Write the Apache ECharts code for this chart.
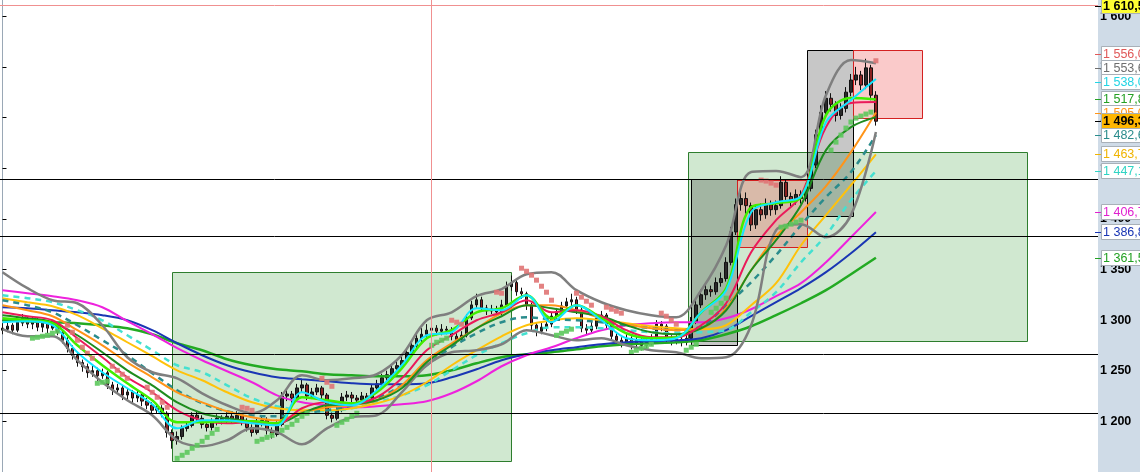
<!DOCTYPE html>
<html><head><meta charset="utf-8">
<script src="https://cdn.jsdelivr.net/npm/echarts@6/dist/echarts.min.js"></script>
<style>html,body{margin:0;padding:0;background:#fff}#c{width:1140px;height:472px}</style>
</head><body><div id="c"></div>
<script>
// ---- data ----
const priceOHLC = [
[1290,1292,1286,1297],[1291,1294,1288,1298],[1295,1290,1286,1297],[1290,1298,1288,1301],[1297,1302,1294,1306],
[1302,1296,1292,1304],[1296,1300,1291,1303],[1300,1293,1289,1302],[1293,1297,1288,1300],[1297,1292,1287,1299],
[1292,1296,1290,1299],[1296,1288,1285,1298],[1288,1280,1277,1290],[1280,1272,1268,1283],[1272,1265,1261,1275],
[1265,1258,1254,1268],[1258,1254,1249,1261],[1254,1248,1243,1257],[1248,1250,1244,1255],[1250,1245,1240,1253],
[1245,1248,1242,1252],[1248,1236,1232,1250],[1236,1231,1226,1239],[1231,1233,1227,1237],[1233,1226,1221,1235],
[1226,1229,1222,1233],[1229,1223,1218,1231],[1223,1226,1219,1230],[1226,1220,1215,1228],[1220,1216,1212,1223],
[1216,1211,1207,1219],[1211,1213,1208,1217],[1213,1209,1204,1216],[1208,1189,1184,1210],[1189,1181,1173,1192],
[1181,1185,1177,1190],[1185,1193,1182,1196],[1193,1196,1190,1200],[1196,1206,1194,1209],[1206,1203,1199,1210],
[1203,1197,1193,1206],[1197,1194,1190,1200],[1194,1199,1191,1203],[1199,1203,1196,1207],[1203,1201,1197,1206],
[1201,1205,1198,1209],[1205,1202,1198,1208],[1202,1206,1199,1210],[1206,1200,1196,1208],[1200,1194,1190,1203],
[1194,1189,1185,1197],[1189,1199,1187,1203],[1199,1201,1195,1205],[1201,1191,1187,1204],[1191,1187,1183,1194],
[1187,1196,1185,1200],[1197,1225,1195,1229],[1225,1227,1220,1232],[1227,1223,1218,1230],[1223,1233,1221,1237],
[1233,1236,1229,1241],[1236,1225,1221,1238],[1225,1229,1222,1233],[1229,1233,1226,1237],[1233,1226,1222,1235],
[1226,1206,1202,1228],[1206,1203,1199,1209],[1203,1211,1201,1215],[1211,1224,1209,1228],[1224,1226,1220,1230],
[1226,1223,1218,1229],[1223,1221,1217,1226],[1221,1225,1218,1229],[1225,1223,1219,1228],[1223,1233,1221,1236],
[1233,1237,1230,1241],[1237,1243,1234,1247],[1243,1246,1240,1250],[1246,1252,1243,1256],[1252,1255,1249,1259],
[1255,1260,1252,1264],[1260,1268,1257,1272],[1268,1275,1265,1279],[1275,1282,1272,1286],[1282,1286,1278,1292],
[1286,1290,1283,1296],[1290,1292,1286,1297],[1292,1289,1285,1295],[1289,1291,1285,1296],[1291,1290,1286,1294],
[1290,1284,1280,1293],[1284,1281,1277,1287],[1281,1285,1278,1289],[1285,1302,1283,1306],[1302,1315,1300,1319],
[1315,1320,1311,1326],[1320,1312,1308,1323],[1312,1309,1305,1315],[1309,1311,1306,1315],[1311,1308,1304,1314],
[1308,1315,1305,1320],[1315,1333,1313,1338],[1333,1337,1329,1344],[1337,1328,1324,1340],[1328,1326,1321,1332],
[1326,1315,1310,1328],[1315,1295,1290,1317],[1295,1289,1284,1298],[1289,1293,1286,1297],[1293,1296,1289,1300],
[1296,1304,1293,1308],[1304,1308,1300,1312],[1308,1314,1305,1318],[1314,1318,1310,1322],[1318,1320,1314,1326],
[1320,1310,1306,1323],[1310,1292,1288,1312],[1292,1290,1286,1296],[1290,1294,1287,1298],[1294,1302,1291,1306],
[1302,1305,1298,1309],[1305,1295,1291,1307],[1295,1284,1280,1297],[1284,1280,1276,1287],[1280,1278,1273,1283],
[1278,1282,1275,1286],[1282,1276,1271,1284],[1276,1280,1273,1284],[1280,1275,1270,1282],[1275,1278,1272,1282],
[1278,1282,1275,1286],[1282,1296,1280,1300],[1296,1294,1289,1299],[1294,1282,1278,1296],[1282,1279,1275,1285],
[1279,1281,1276,1285],[1281,1278,1274,1284],[1278,1282,1275,1286],[1282,1298,1280,1303],[1298,1315,1296,1320],
[1315,1325,1312,1330],[1325,1330,1320,1335],[1330,1328,1323,1334],[1328,1337,1325,1342],[1337,1341,1333,1347],
[1341,1357,1338,1362],[1357,1387,1354,1392],[1387,1414,1384,1420],[1414,1420,1408,1428],[1420,1413,1405,1426],
[1413,1394,1388,1416],[1394,1409,1390,1414],[1409,1404,1398,1415],[1404,1414,1400,1420],[1414,1409,1403,1418],
[1409,1413,1404,1418],[1413,1436,1410,1442],[1436,1422,1417,1439],[1422,1418,1412,1426],[1418,1424,1414,1429],
[1424,1420,1415,1428],[1420,1430,1417,1435],[1430,1453,1427,1458],[1453,1483,1450,1488],[1483,1505,1480,1512],
[1505,1519,1500,1526],[1519,1513,1506,1524],[1513,1502,1496,1516],[1502,1509,1498,1514],[1509,1525,1505,1530],
[1525,1537,1521,1543],[1537,1542,1532,1550],[1542,1532,1527,1546],[1532,1549,1528,1558],[1549,1522,1517,1552],
[1522,1496.3,1492,1526]
];

// indicator sample bars
const maX = [0,5,10,15,20,25,30,35,40,45,50,55,60,65,70,75,80,85,90,95,100,105,110,115,120,125,130,135,140,145,150,155,160,165,170,175];

const magentaMA = [1329.5,1326.5,1323.6,1319.6,1312.7,1298.9,1286.0,1272.2,1260.3,1249.5,1238.6,1225.7,1218.8,1215.9,1213.9,1214.9,1216.8,1219.8,1227.7,1239.6,1254.4,1265.3,1273.2,1282.1,1290.0,1294.9,1296.9,1297.9,1297.9,1301.8,1310.7,1323.6,1336.4,1357.1,1381.8,1406.7];
const blueMA = [1312.7,1311.7,1309.7,1307.7,1304.8,1299.8,1290.0,1277.1,1265.3,1255.4,1248.5,1243.5,1241.5,1239.6,1237.6,1236.6,1236.6,1237.6,1243.5,1251.4,1260.3,1266.2,1270.2,1273.2,1276.1,1278.1,1279.1,1280.1,1282.1,1290.0,1303.8,1317.6,1331.5,1347.3,1366.0,1386.8];
const greenMA = [1299.8,1298.9,1297.9,1296.9,1294.9,1291.9,1286.0,1277.1,1270.2,1261.3,1255.4,1251.4,1249.5,1246.5,1245.5,1244.5,1244.5,1245.5,1250.4,1257.4,1263.3,1266.2,1268.2,1271.2,1274.2,1276.1,1277.1,1278.1,1280.1,1286.0,1293.9,1304.8,1316.6,1329.5,1345.3,1361.5];
const bbUpper = [1347.3,1331.5,1319.6,1316.6,1294.9,1263.3,1248.5,1242.5,1227.7,1215.9,1208.0,1220.8,1245.5,1240.6,1242.5,1246.5,1265.3,1299.8,1307.7,1323.6,1330.5,1345.3,1347.3,1329.5,1317.6,1309.7,1304.8,1302.8,1329.5,1373.9,1446.1,1447.1,1441.1,1522.1,1556.7,1553.6];
const bbLower = [1291.0,1284.0,1284.0,1260.3,1238.6,1220.8,1206.0,1181.3,1175.4,1181.3,1193.1,1189.2,1177.3,1193.1,1204.0,1206.0,1228.7,1255.4,1268.2,1270.2,1276.1,1290.0,1285.0,1280.1,1282.1,1275.1,1270.2,1268.2,1262.3,1263.3,1294.9,1388.8,1394.7,1381.8,1403.6,1485.6];
const tealMA = [1319.6,1314.7,1307.7,1294.9,1280.1,1265.3,1247.5,1230.7,1217.8,1209.9,1206.0,1205.0,1208.0,1210.9,1215.9,1222.8,1235.6,1255.4,1273.2,1287.0,1297.9,1302.8,1300.8,1299.8,1297.9,1294.9,1291.9,1290.0,1293.9,1314.7,1337.4,1364.1,1393.7,1421.4,1446.1,1482.6];
const lightCyanMA = [1324.5,1321.6,1317.6,1309.7,1299.8,1285.0,1270.2,1255.4,1248.5,1235.6,1222.8,1214.9,1210.9,1209.9,1212.9,1218.8,1225.7,1235.6,1250.4,1265.3,1277.1,1287.0,1292.9,1292.9,1291.9,1290.0,1288.0,1287.0,1288.0,1290.0,1307.7,1327.5,1357.1,1383.8,1418.4,1447.1];
const yellowMA = [1321.6,1317.6,1313.7,1304.8,1291.9,1278.1,1264.3,1250.4,1240.6,1228.7,1218.8,1212.9,1210.9,1210.9,1212.9,1217.8,1225.7,1238.6,1255.4,1270.2,1284.0,1294.9,1299.8,1301.8,1299.8,1296.9,1293.9,1291.9,1291.0,1294.9,1314.7,1336.4,1373.9,1403.6,1433.2,1463.7];
const orangeMA = [1314.7,1309.7,1303.8,1290.0,1275.1,1258.3,1243.5,1228.7,1218.8,1209.9,1204.0,1201.0,1208.9,1213.9,1215.9,1220.8,1235.6,1260.3,1277.1,1291.9,1306.8,1314.7,1314.7,1309.7,1301.8,1295.9,1291.9,1290.0,1291.9,1311.7,1349.2,1382.8,1406.5,1432.2,1465.8,1505.0];
const darkGreenMA = [1304.8,1301.8,1297.9,1285.0,1268.2,1250.4,1235.6,1218.8,1208.0,1203.0,1200.0,1198.0,1208.0,1215.9,1216.8,1220.8,1232.7,1258.3,1275.1,1291.9,1303.8,1314.7,1311.7,1307.7,1303.8,1294.9,1288.0,1286.0,1291.9,1309.7,1349.2,1378.9,1413.5,1467.8,1490.5,1500.4];
const crimsonMA = [1307.7,1303.8,1299.8,1282.1,1263.3,1243.5,1228.7,1210.9,1201.0,1198.1,1199.1,1197.1,1212.9,1218.8,1217.8,1223.8,1242.5,1270.2,1285.0,1299.8,1307.7,1319.6,1307.7,1309.7,1303.8,1290.0,1283.0,1283.0,1294.9,1316.6,1367.0,1398.6,1423.3,1490.5,1514.2,1515.2];
const limeMA = [1301.8,1299.8,1296.9,1275.1,1255.4,1237.6,1220.8,1199.1,1199.1,1200.0,1200.0,1198.1,1223.8,1220.8,1217.8,1228.7,1252.4,1282.1,1290.0,1307.7,1311.7,1324.5,1301.8,1314.7,1301.8,1287.0,1282.1,1283.0,1307.7,1331.5,1411.5,1415.4,1421.4,1502.4,1519.2,1517.8];
const cyanMA = [1297.9,1298.9,1294.9,1268.2,1248.5,1232.7,1216.8,1193.1,1201.0,1201.0,1198.1,1196.1,1228.7,1218.8,1215.9,1230.7,1255.4,1285.0,1288.0,1311.7,1309.7,1324.5,1297.9,1314.7,1299.8,1282.1,1280.1,1282.1,1307.7,1329.5,1406.5,1416.4,1422.4,1495.4,1517.2,1538.0];

// parabolic SAR dots [bar, value]
const sarAbove = [[13,1294.9],[14,1288.0],[15,1280.1],[16,1273.2],[17,1267.3],[18,1262.3],
[22,1254.4],[23,1250.4],[24,1246.5],[25,1242.5],[29,1233.7],[30,1228.7],[31,1223.8],[32,1218.8],[33,1213.9],
[48,1213.9],[49,1212.9],[50,1210.9],[64,1242.5],[65,1238.6],[66,1234.6],[90,1299.8],[91,1297.9],[92,1295.9],
[99,1327.5],[100,1326.5],[104,1351.2],[105,1348.2],[106,1344.3],[107,1339.4],[108,1333.4],[109,1327.5],[110,1319.6],
[115,1326.5],[116,1322.6],[117,1318.6],[118,1314.7],[121,1312.7],[122,1310.7],[123,1308.7],[124,1306.8],
[132,1306.8],[133,1303.8],[134,1299.8],[135,1295.9],[152,1438.2],[153,1437.2],[154,1435.2],[155,1433.2],[175,1556.0]];
const sarBelow = [[6,1282.1],[7,1283.0],[8,1284.0],[9,1285.0],[10,1287.0],[11,1289.0],[19,1237.6],[20,1238.6],[21,1239.6],
[35,1163.5],[36,1166.5],[37,1169.4],[38,1173.4],[39,1176.3],[40,1180.3],[41,1184.2],[42,1188.2],[43,1192.1],
[51,1180.3],[52,1182.3],[53,1184.2],[54,1186.2],[56,1191.2],[57,1194.1],[58,1197.1],[59,1201.0],[60,1205.0],[61,1208.0],
[67,1196.1],[68,1199.1],[69,1202.0],[70,1205.0],[71,1208.0],[86,1275.1],[87,1278.1],[88,1280.1],[89,1282.1],
[111,1285.0],[112,1287.0],[113,1289.0],[114,1291.0],[126,1268.2],[127,1270.2],[128,1272.2],[129,1274.2],[130,1276.1],
[137,1270.2],[138,1273.2],[139,1276.1],[142,1307.7],[143,1311.7],[144,1316.6],[145,1321.6],
[156,1391.7],[157,1392.7],[158,1394.7],[159,1396.7],[160,1398.6],[166,1467.8],[167,1475.7],[168,1482.6],[169,1489.5],[170,1495.5],
[171,1499.4],[172,1501.4],[173,1503.4],[174,1505.3]];

// zones: [fromBar, toBar, top, bottom, kind]
const zones = [
[33.97,101.9,1347.5,1160.9,0],
[137.4,205.3,1465.9,1279.3,0],
[138.0,147.2,1439.3,1275.4,1],
[147.2,161.2,1438.3,1372.1,2],
[161.2,170.4,1566.6,1402.7,1],
[170.4,184.3,1566.6,1499.5,2]
];
const levels = [1439.3, 1383.0, 1266.5, 1208.3];
const crossY = 1610.5;
const crossX = 85.9;
const tickLabels = [1200,1250,1300,1350,1400,1450,1500,1550,1600];
const tagValues = [1556.0,1553.6,1538.0,1517.8,1505.0,1482.6,1463.7,1447.1,1406.7,1386.8,1361.5];
const lastPrice = 1496.3;

// ---- chart ----
const NB = 220;
const cats = []; for (let i = 0; i < NB; i++) cats.push(String(i));
const FONT = '"Liberation Sans", Arial, sans-serif';
const zoneStyles = [
  {fill:'rgba(100,180,100,0.30)', stroke:'#2d7d2d'},
  {fill:'rgba(0,0,0,0.22)', stroke:'#000000'},
  {fill:'rgba(240,80,80,0.30)', stroke:'#d42020'}
];
function fmt1(v){const s=v.toFixed(1).split('.');return s[0].replace(/\B(?=(\d{3})+(?!\d))/g,' ')+','+s[1];}
function fmt0(v){return String(v).replace(/\B(?=(\d{3})+(?!\d))/g,' ');}

function mkLine(vals, color, width, dash, z){
  return {type:'line', xAxisIndex:1, yAxisIndex:0, data: maX.map((x,k)=>[x, vals[k]]),
    smooth:0.35, symbol:'none', z:z, silent:true,
    lineStyle:{color:color, width:width, type: dash ? [6,5] : 'solid'}};
}

const chart = echarts.init(document.getElementById('c'), null, {renderer:'canvas'});
const option = {
  animation:false,
  backgroundColor:'#cfdbe7',
  grid:{left:0,right:42,top:0,bottom:0,show:true,backgroundColor:'#ffffff',borderWidth:0},
  xAxis:[
    {type:'category', data:cats, boundaryGap:true, show:false},
    {type:'value', min:-0.5, max:NB-0.5, show:false}
  ],
  yAxis:[{type:'value', position:'right', min:1150, max:1616, interval:50, scale:true,
    axisLine:{show:true, lineStyle:{color:'#9aa8b6'}},
    axisTick:{show:true, length:4, lineStyle:{color:'#000'}},
    splitLine:{show:false},
    axisLabel:{margin:2, color:'#000', fontWeight:'bold', fontSize:12.5, fontFamily:FONT,
      showMinLabel:false, showMaxLabel:false,
      formatter:(v)=> tickLabels.indexOf(v) >= 0 ? fmt0(v) : ''}
  }],
  series:[
    {type:'custom', xAxisIndex:1, yAxisIndex:0, z:1, silent:true, data:zones,
      encode:{x:[0,1], y:[2,3]},
      renderItem:function(params, api){
        const p0 = api.coord([api.value(0), api.value(2)]);
        const p1 = api.coord([api.value(1), api.value(3)]);
        const st = zoneStyles[api.value(4)];
        return {type:'rect', shape:{x:Math.round(p0[0])+0.5, y:Math.round(p0[1])+0.5,
          width:Math.round(p1[0]-p0[0]), height:Math.round(p1[1]-p0[1])},
          style:{fill:st.fill, stroke:st.stroke, lineWidth:1}};
      },
      markLine:{silent:true, symbol:['none','none'], label:{show:false}, animation:false,
        data: levels.map(v=>({yAxis:v, lineStyle:{color:'#000', width:1, type:'solid'}}))
          .concat([{yAxis:crossY, lineStyle:{color:'#f09090', width:1, type:'solid'}},
                   {xAxis:crossX, lineStyle:{color:'#f09090', width:1, type:'solid'}}])}
    },
    {type:'candlestick', xAxisIndex:0, yAxisIndex:0, data:priceOHLC, barWidth:3, z:2, silent:true,
      itemStyle:{color:'#2a2a2a', color0:'#8a2020', borderColor:'#111', borderColor0:'#111', borderWidth:1}},
    mkLine(greenMA, '#22aa22', 2.5, false, 3),
    mkLine(blueMA, '#1a36b4', 2, false, 3),
    mkLine(magentaMA, '#ee22dd', 2, false, 3),
    mkLine(lightCyanMA, '#44e0d0', 2.5, true, 3),
    mkLine(yellowMA, '#ffc20a', 2, false, 3),
    mkLine(tealMA, '#2a8c8c', 2.5, true, 3),
    mkLine(orangeMA, '#ff9418', 2, false, 3),
    mkLine(bbUpper, '#7f7f7f', 2.5, false, 3),
    mkLine(bbLower, '#7f7f7f', 2.5, false, 3),
    mkLine(darkGreenMA, '#1e8c1e', 2, false, 3),
    mkLine(crimsonMA, '#ea1a5a', 2, false, 3),
    mkLine(limeMA, '#40ee00', 2.5, false, 3),
    mkLine(cyanMA, '#12e6ff', 2, false, 3),
    {type:'scatter', xAxisIndex:1, yAxisIndex:0, data:sarAbove, symbol:'rect', symbolSize:[5,5], z:3, silent:true,
      itemStyle:{color:'#e07474', opacity:0.9}},
    {type:'scatter', xAxisIndex:1, yAxisIndex:0, data:sarBelow, symbol:'rect', symbolSize:[5,5], z:3, silent:true,
      itemStyle:{color:'#5cc85c', opacity:0.9}}
  ]
};
chart.setOption(option);

// ---- value tags on the price scale ----
const tagColors = ['#e05858','#6e6e6e','#22d4e4','#24a024','#ff9418','#2a8c8c','#f0b400','#30d4c4','#e020d0','#1a36b4','#22a022'];
function px(v){ return chart.convertToPixel({yAxisIndex:0}, v); }
let items = tagValues.map((v,i)=>({v, i, y:px(v)}));
items.sort((a,b)=>a.y-b.y);
const GAP = 14;
let clusters = items.map(it=>({members:[it], c:it.y}));
let merged = true;
function layoutCl(cl){ const n=cl.members.length; const start=cl.c-(n-1)*GAP/2; cl.members.forEach((m,k)=>m.ly=start+k*GAP); }
while (merged) {
  merged = false;
  clusters.forEach(layoutCl);
  for (let k = 0; k < clusters.length-1; k++) {
    const a = clusters[k], b = clusters[k+1];
    const aEnd = a.members[a.members.length-1].ly, bStart = b.members[0].ly;
    if (bStart - aEnd < GAP) {
      const all = a.members.concat(b.members);
      const c = all.reduce((s,m)=>s+m.y,0)/all.length;
      clusters.splice(k,2,{members:all, c:c});
      merged = true; break;
    }
  }
}
clusters.forEach(layoutCl);
const AX = 1098;
const g = [];
function addTag(y, text, color, bg, bold, z){
  const yc = Math.round(y);
  g.push({type:'line', z:z, silent:true, shape:{x1:AX-3, y1:yc+0.5, x2:AX+3, y2:yc+0.5}, style:{stroke: bold ? '#000' : color, lineWidth:1}});
  g.push({type:'rect', z:z, silent:true, shape:{x:AX+3.5, y:yc-7.5, width:50, height:15}, style:{fill:bg, stroke:'#a8b0b8', lineWidth:1}});
  g.push({type:'text', z:z+1, silent:true, style:{x:AX+5, y:yc+1, text:text, fill:color, font:(bold?'bold ':'')+'12.5px '+FONT, verticalAlign:'middle', align:'left'}});
}
items.forEach((it,k)=>addTag(it.ly, fmt1(it.v), tagColors[it.i], '#ffffff', false, 100+k));
addTag(px(lastPrice), fmt1(lastPrice), '#000', '#ffb600', true, 200);
addTag(px(crossY), fmt1(crossY), '#000', '#ffff33', true, 210);
chart.setOption({graphic:g});
</script></body></html>
